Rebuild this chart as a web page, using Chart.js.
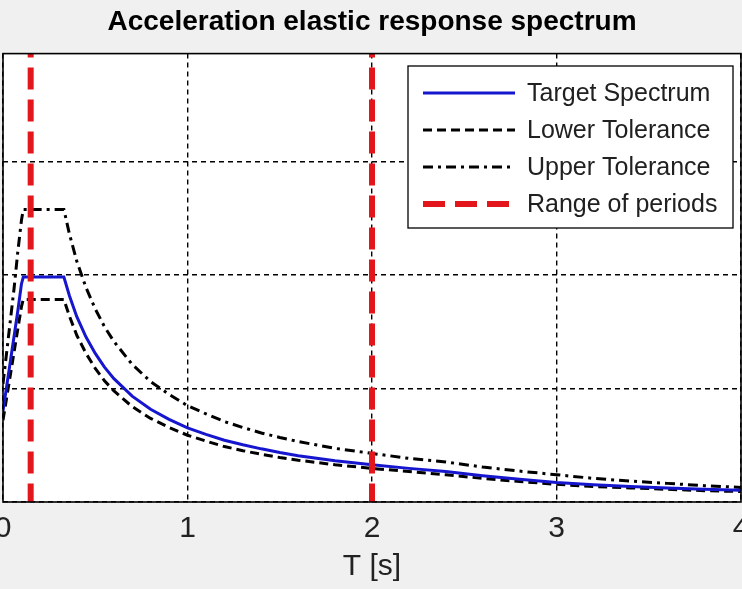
<!DOCTYPE html>
<html>
<head>
<meta charset="utf-8">
<script src="https://cdn.jsdelivr.net/npm/chart.js@4.4.1/dist/chart.umd.min.js"></script>
<style>
    html, body { margin: 0; padding: 0; background: #f0f0f0; }
    #wrap { width: 742px; height: 589px; }
</style>
</head>
<body>
<div id="wrap"><canvas id="spectrumChart" width="742" height="589"></canvas></div>
<script>
// periods [s]
const periods = [0, 0.02, 0.04, 0.06, 0.08, 0.1, 0.11, 0.15, 0.2, 0.25, 0.3, 0.33, 0.36, 0.4, 0.45, 0.5,
    0.55, 0.6, 0.7, 0.8, 0.9, 1.0, 1.1, 1.2, 1.3, 1.4, 1.5, 1.6, 1.8, 2.0, 2.2, 2.4, 2.6, 2.8,
    3.0, 3.2, 3.4, 3.6, 3.8, 4.0];

const targetSa = [0.20, 0.255, 0.31, 0.365, 0.42, 0.48, 0.495, 0.495, 0.495, 0.495, 0.495, 0.495, 0.454, 0.408, 0.363, 0.327,
    0.297, 0.272, 0.233, 0.204, 0.182, 0.163, 0.149, 0.136, 0.126, 0.117, 0.109, 0.102, 0.091, 0.082, 0.074, 0.067, 0.058, 0.050,
    0.043, 0.038, 0.034, 0.031, 0.028, 0.026];

const lowerSa = [0.18, 0.23, 0.28, 0.33, 0.38, 0.43, 0.446, 0.446, 0.446, 0.446, 0.446, 0.446, 0.409, 0.367, 0.327, 0.294,
    0.267, 0.245, 0.210, 0.184, 0.164, 0.147, 0.134, 0.122, 0.113, 0.105, 0.098, 0.092, 0.082, 0.074, 0.067, 0.060, 0.052, 0.045,
    0.039, 0.034, 0.031, 0.028, 0.025, 0.023];

const upperSa = [0.26, 0.33, 0.40, 0.47, 0.55, 0.62, 0.644, 0.644, 0.644, 0.644, 0.644, 0.644, 0.59, 0.53, 0.472, 0.425,
    0.386, 0.354, 0.303, 0.265, 0.237, 0.212, 0.194, 0.177, 0.164, 0.152, 0.142, 0.133, 0.118, 0.107, 0.096, 0.088, 0.077, 0.068,
    0.060, 0.052, 0.046, 0.041, 0.036, 0.032];

// range of periods considered
const periodRange = [0.15, 2.0];

const xTicks = [0, 1, 2, 3, 4];
const yMax = 0.987;

const toPoints = vals => periods.map((t, i) => ({ x: t, y: vals[i] }));
// drawn top-down so the dash pattern starts at the upper edge
const vLine = t => [{ x: t, y: yMax }, { x: t, y: 0 }];

const FONT = "'Liberation Sans', Arial, sans-serif";

// grey figure, white axes, black box
const backgroundPlugin = {
    id: 'bg',
    beforeDraw(chart) {
        const { ctx, chartArea: a } = chart;
        ctx.save();
        ctx.fillStyle = '#f0f0f0';
        ctx.fillRect(0, 0, chart.width, chart.height);
        ctx.fillStyle = '#ffffff';
        ctx.fillRect(a.left, a.top, a.right - a.left, a.bottom - a.top);
        ctx.restore();
    },
    afterDatasetsDraw(chart) {
        const { ctx, chartArea: a } = chart;
        ctx.save();
        ctx.strokeStyle = '#000';
        ctx.lineWidth = 1.6;
        ctx.strokeRect(a.left, a.top, a.right - a.left, a.bottom - a.top);
        ctx.restore();
    }
};

// MATLAB style legend box inside the axes
const boxLegendPlugin = {
    id: 'boxLegend',
    afterDraw(chart) {
        const ctx = chart.ctx;
        const items = chart.data.datasets.filter(d => d.label);
        const x0 = 408, y0 = 66, w = 325, h = 162;
        ctx.save();
        ctx.fillStyle = '#fff';
        ctx.fillRect(x0, y0, w, h);
        ctx.strokeStyle = '#000';
        ctx.lineWidth = 1.3;
        ctx.strokeRect(x0, y0, w, h);
        ctx.font = '25px ' + FONT;
        ctx.textBaseline = 'middle';
        items.forEach((d, i) => {
            const y = y0 + 27 + i * 37;
            ctx.strokeStyle = d.borderColor;
            ctx.lineWidth = d.borderWidth;
            ctx.setLineDash(d.borderDash || []);
            ctx.beginPath();
            ctx.moveTo(x0 + 15, y);
            ctx.lineTo(x0 + 107, y);
            ctx.stroke();
            ctx.setLineDash([]);
            ctx.fillStyle = '#202020';
            ctx.fillText(d.label, x0 + 119, y + 1);
        });
        ctx.restore();
    }
};

const ctx = document.getElementById('spectrumChart').getContext('2d');

new Chart(ctx, {
    type: 'line',
    data: {
        datasets: [
            {
                label: 'Target Spectrum',
                data: toPoints(targetSa),
                borderColor: '#1616cf',
                borderWidth: 3,
                order: 1
            },
            {
                label: 'Lower Tolerance',
                data: toPoints(lowerSa),
                borderColor: '#000',
                borderWidth: 3,
                borderDash: [9, 5],
                order: 2
            },
            {
                label: 'Upper Tolerance',
                data: toPoints(upperSa),
                borderColor: '#000',
                borderWidth: 3,
                borderDash: [10, 5, 3, 5],
                order: 3
            },
            {
                label: 'Range of periods',
                data: vLine(periodRange[0]),
                borderColor: '#e3161c',
                borderWidth: 6,
                borderDash: [22, 10],
                borderDashOffset: 18,
                order: 0
            },
            {
                label: '',
                data: vLine(periodRange[1]),
                borderColor: '#e3161c',
                borderWidth: 6,
                borderDash: [22, 10],
                borderDashOffset: 18,
                order: 0
            }
        ]
    },
    options: {
        responsive: false,
        animation: false,
        layout: { padding: { left: 3, right: 1, top: 0, bottom: 0 } },
        elements: {
            point: { radius: 0 },
            line: { tension: 0, fill: false }
        },
        plugins: {
            legend: { display: false },
            tooltip: { enabled: false },
            title: {
                display: true,
                text: 'Acceleration elastic response spectrum',
                color: '#000',
                font: { family: FONT, size: 28, weight: 'bold' },
                padding: { top: 5, bottom: 15 }
            }
        },
        scales: {
            x: {
                type: 'linear',
                min: 0,
                max: 4,
                afterBuildTicks: s => { s.ticks = xTicks.map(v => ({ value: v })); },
                afterFit: s => { s.height = 87; s.paddingLeft = 0; s.paddingRight = 0; },
                grid: { color: '#000', lineWidth: 1.4, drawTicks: false },
                border: { display: false, dash: [5, 4] },
                ticks: {
                    color: '#222',
                    padding: 9,
                    maxRotation: 0,
                    font: { family: FONT, size: 30 }
                },
                title: {
                    display: true,
                    text: 'T [s]',
                    color: '#222',
                    font: { family: FONT, size: 30 },
                    padding: { top: 0, bottom: 4 }
                }
            },
            y: {
                type: 'linear',
                min: 0,
                max: yMax,
                afterFit: s => { s.width = 0; },
                grid: { color: '#000', lineWidth: 1.4, drawTicks: false },
                border: { display: false, dash: [5, 4] },
                ticks: { display: false, stepSize: 0.25, includeBounds: false }
            }
        }
    },
    plugins: [backgroundPlugin, boxLegendPlugin]
});
</script>
</body>
</html>
